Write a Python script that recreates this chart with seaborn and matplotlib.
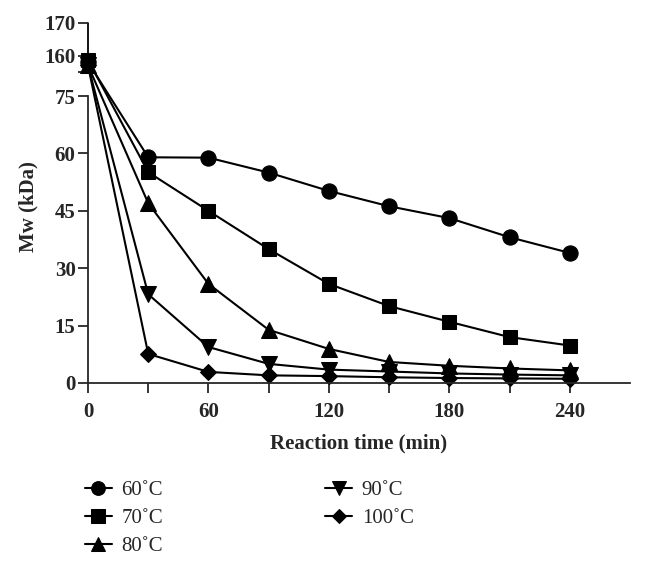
import numpy as np
import pandas as pd
import matplotlib.pyplot as plt
import seaborn as sns

times = [0, 30, 60, 90, 120, 150, 180, 210, 240]
temps = ['60˚C', '70˚C', '80˚C', '90˚C', '100˚C']
mw_60 = [158, 59, 58.9, 55, 50.2, 46.2, 43.1, 38.1, 34]
mw_70 = [158.7, 55.1, 45, 35, 25.9, 20.1, 16, 12, 9.8]
mw_80 = [157, 47, 25.9, 13.9, 8.9, 5.5, 4.5, 3.8, 3.3]
mw_90 = [157, 23.2, 9.4, 5.0, 3.5, 3.0, 2.5, 2.2, 2.0]
mw_100 = [157, 7.6, 2.9, 2.0, 1.8, 1.5, 1.3, 1.2, 1.1]

df = pd.DataFrame({'time': times * 5,
                   'mw': mw_60 + mw_70 + mw_80 + mw_90 + mw_100,
                   'temp': [t for t in temps for _ in times]})

# broken y axis: 0-75 and 155-170 on one piecewise-linear scale
real = [-1000, 0, 75, 155, 170, 1000]
shown = [-1000, 0, 75, 81.3, 94.1, 94.1 + 830 * 0.856]


def fwd(y):
    return np.interp(y, real, shown)


def inv(y):
    return np.interp(y, shown, real)


sns.set_style('ticks')
plt.rcParams['font.family'] = ['Liberation Serif', 'DejaVu Serif']

marker_map = dict(zip(temps, ['o', 's', '^', 'v', 'D']))
size_map = {'60˚C': 11, '70˚C': 10.5, '80˚C': 11, '90˚C': 11, '100˚C': 8}

fig = plt.figure(figsize=(6.46, 5.62), dpi=100)
W, H = 646, 562
ax = fig.add_axes([88 / W, 1 - 383 / H, (630 - 88) / W, (383 - 23) / H])
ax.set_yscale('function', functions=(fwd, inv))

for t in temps:
    sub = df[df['temp'] == t]
    sns.lineplot(data=sub, x='time', y='mw', ax=ax, color='black',
                 marker=marker_map[t], markersize=size_map[t],
                 markeredgecolor='black', linewidth=1.5, label=t,
                 clip_on=False)

ax.set_xlim(0, 270)
ax.set_ylim(0, 170)
ax.set_xticks([0, 60, 120, 180, 240])
ax.set_xticks([30, 90, 150, 210], minor=True)
ax.set_yticks([0, 15, 30, 45, 60, 75, 155, 160, 170])
ax.set_yticklabels(['0', '15', '30', '45', '60', '75', '', '160', '170'])
ax.yaxis.set_minor_locator(plt.NullLocator())
ax.tick_params(axis='both', which='major', length=7, width=1.3, labelsize=15)
ax.tick_params(axis='x', which='major', pad=7)
ax.tick_params(axis='y', which='major', pad=2)
ax.tick_params(axis='x', which='minor', length=7, width=1.3)
for lab in ax.get_xticklabels() + ax.get_yticklabels():
    lab.set_fontweight('bold')
ax.set_xlabel('Reaction time (min)', fontsize=15, fontweight='bold', labelpad=8)
ax.set_ylabel('Mw (kDa)', fontsize=15, fontweight='bold')
ax.yaxis.set_label_coords(-0.092, 0.49)
sns.despine(ax=ax)
for s in ax.spines.values():
    s.set_linewidth(1.3)
ax.spines['left'].set_bounds(0, 75)
ax.axvline(0, ymin=81.3 / 94.1, ymax=1, color='black', linewidth=1.3,
           clip_on=False, zorder=0)

handles, labels = ax.get_legend_handles_labels()
ax.get_legend().remove()
fig.legend(handles, labels, ncol=2, loc='upper left',
           bbox_to_anchor=(66 / W, 1 - 462 / H), frameon=False,
           fontsize=15, handlelength=1.3, columnspacing=7.8,
           labelspacing=0.4, handletextpad=0.45, markerscale=0.9)

fig.savefig('out.png', dpi=100)
